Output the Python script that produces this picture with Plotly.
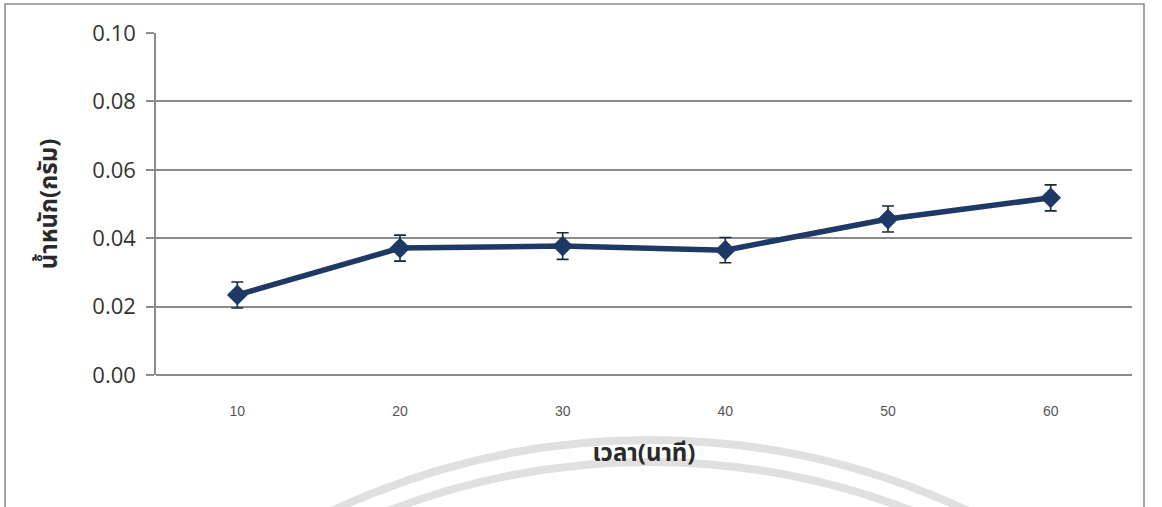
import plotly.graph_objects as go

# Weight (g) measured at each time point (minutes), with standard deviation
time_labels = ["10", "20", "30", "40", "50", "60"]
weight_g = [0.0234, 0.0371, 0.0377, 0.0365, 0.0456, 0.0518]
weight_sd = [0.0038, 0.0038, 0.0039, 0.0037, 0.0038, 0.0038]
y_ticks = [0.00, 0.02, 0.04, 0.06, 0.08, 0.10]

W, H = 1162, 507
L, R, T, B = 156, 30, 33, 132
pw, ph = W - L - R, H - T - B


def px_to_paper_x(px):
    return (px - L) / pw


def px_to_paper_y(py):
    return (H - B - py) / ph


fig = go.Figure()
fig.add_trace(go.Scatter(
    x=time_labels,
    y=weight_g,
    mode="lines+markers",
    line=dict(color="#1e3966", width=5.5),
    marker=dict(symbol="diamond", size=16, color="#1e3966"),
    error_y=dict(type="data", array=weight_sd, visible=True,
                 color="#1c2a36", thickness=1.6, width=6),
    showlegend=False,
))

shapes = []
# frame around the chart
shapes.append(dict(type="rect", xref="paper", yref="paper",
                   x0=px_to_paper_x(5), x1=px_to_paper_x(1144),
                   y0=px_to_paper_y(530), y1=px_to_paper_y(4),
                   line=dict(color="#8a8a8a", width=1.5), layer="below"))
# faint arcs of the page seal beneath the chart
cx, cy = 650, 1190
for r in (750, 728):
    shapes.append(dict(type="circle", xref="paper", yref="paper",
                       x0=px_to_paper_x(cx - r), x1=px_to_paper_x(cx + r),
                       y0=px_to_paper_y(cy + r), y1=px_to_paper_y(cy - r),
                       line=dict(color="#e0e0e0", width=8), layer="below"))

fig.update_layout(
    width=W, height=H,
    margin=dict(l=L, r=R, t=T, b=B),
    paper_bgcolor="white",
    plot_bgcolor="white",
    shapes=shapes,
    xaxis=dict(
        type="category",
        range=[-0.5, 5.5],
        showgrid=False,
        showline=False,
        ticks="",
        ticklabelstandoff=26,
        tickfont=dict(family="Liberation Sans, Arial", size=14, color="#555555"),
        title=dict(text="<b>เวลา(นาที)</b>", standoff=26,
                   font=dict(family="Noto Sans Thai, Loma, Garuda, DejaVu Sans", size=24, color="#2a2a2a")),
    ),
    yaxis=dict(
        range=[0, 0.1],
        tickvals=y_ticks,
        ticktext=[f"{v:.2f}" for v in y_ticks],
        showgrid=True,
        gridcolor="#8c8c8c",
        gridwidth=1.5,
        zeroline=True,
        zerolinecolor="#8c8c8c",
        zerolinewidth=1.5,
        showline=True,
        linecolor="#8c8c8c",
        linewidth=1.5,
        ticks="outside",
        ticklen=8,
        tickcolor="#8c8c8c",
        tickwidth=1.5,
        ticklabelstandoff=6,
        tickfont=dict(family="Open Sans, Noto Sans, Carlito, Calibri", size=22, color="#333333"),
        title=dict(text="<b>น้ำหนัก(กรัม)</b>", standoff=28,
                   font=dict(family="Noto Sans Thai, Loma, Garuda, DejaVu Sans", size=24, color="#2a2a2a")),
    ),
)

fig.write_html("out.html")
